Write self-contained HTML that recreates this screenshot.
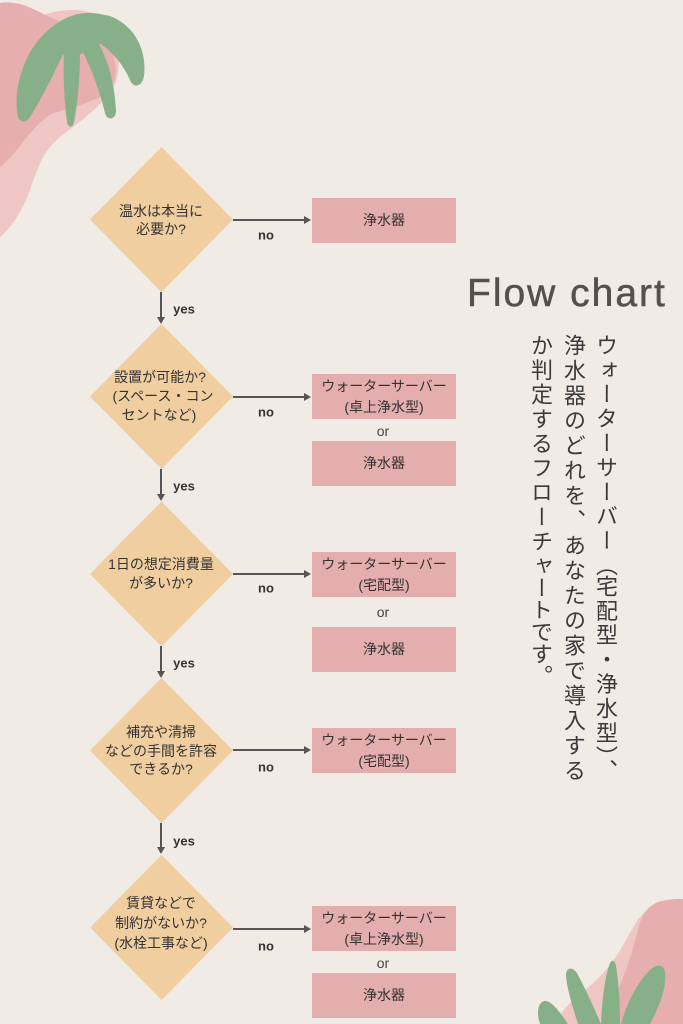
<!DOCTYPE html>
<html lang="ja">
<head>
<meta charset="utf-8">
<style>
  html, body { margin:0; padding:0; }
  body { width:683px; height:1024px; overflow:hidden; background:#f0ebe5; position:relative;
         font-family:"Liberation Sans","Noto Sans CJK JP",sans-serif; }
  svg { position:absolute; left:0; top:0; }
  .vcol { position:absolute; top:334px; width:32px; writing-mode:vertical-rl; text-orientation:mixed;
          font-family:"Noto Sans CJK JP","Liberation Sans",sans-serif; font-size:22px; line-height:32px;
          color:#3a3a3a; white-space:nowrap; }
  .title { position:absolute; left:467px; top:271px; font-family:"Liberation Sans",sans-serif;
           font-size:39px; letter-spacing:2px; color:#55504c; white-space:nowrap; line-height:46px;
           -webkit-text-stroke:0.5px #55504c; }
</style>
</head>
<body>
<svg width="683" height="1024" viewBox="0 0 683 1024" xmlns="http://www.w3.org/2000/svg">
  <!-- top-left decoration -->
  <path d="M0,237 C12,228 25,205 30,190 C40,160 45,150 60,137 C75,125 95,112 110,93 C120,80 122,55 113,33 C106,18 95,11 75,10 C55,10 45,14 30,20 L0,20 Z" fill="#efc6c3"/>
  <path d="M0,167 C12,158 22,142 33,130 C43,118 52,113 60,111 C72,108 85,104 98,98 C112,90 118,78 115,62 C110,40 95,28 70,24 C50,20 40,10 20,4 C10,2 4,2 0,3 Z" fill="#e6aeae"/>
  <g fill="#88b088">
    <path d="M38,44 C52,22 72,12 92,13 C112,14 130,26 138,45 L97,44 L81,54 L64,55 Z"/>
    <path d="M64,52 C55,72 42,98 30,117 C27,123 20,123 18,117 C14,98 18,70 34,46 C44,32 56,22 70,17 Z"/>
    <path d="M64,50 C63,75 64,100 67,122 C68,128 73,128 74,122 C78,102 80,76 80,50 Z"/>
    <path d="M82,50 C92,70 100,92 105,113 C107,121 116,120 116,111 C115,88 110,64 98,42 Z"/>
    <path d="M98,42 C110,50 122,62 130,80 C133,88 142,88 144,76 C147,52 136,26 110,16 C102,14 95,14 90,15 Z"/>
  </g>

  <!-- bottom-right decoration -->
  <path d="M556,1024 C560,1012 568,1004 580,994 C592,985 600,977 610,965 C620,953 625,940 633,928 C640,915 650,904 665,901 C672,900 678,900 683,900 L683,1024 Z" fill="#efc6c3"/>
  <path d="M607,1024 C612,1005 618,990 624,975 C630,960 634,945 638,930 C641,917 646,907 658,902 C668,899 676,899 683,899 L683,1024 Z" fill="#e6aeae"/>
  <path d="M540,1024 C537,1015 537,1006 542,1002 C548,998 556,1006 568,1024 Z" fill="#88b088"/>
  <path d="M578,1024 C572,1005 566,985 566,974 C567,966 574,967 578,975 C586,990 594,1008 601,1024 Z" fill="#88b088"/>
  <path d="M601,1024 C602,1005 604,980 609,966 C611,959 615,959 616,966 C619,985 620,1005 620,1024 Z" fill="#88b088"/>
  <path d="M621,1024 C626,1005 636,985 648,972 C655,964 663,963 665,972 C667,987 660,1005 650,1024 Z" fill="#88b088"/>

  <!-- diamonds -->
  <g fill="#f0cea0">
    <polygon points="161.5,147 233,219.5 161.5,292 90,219.5"/>
    <polygon points="161.5,324 233,396.5 161.5,469 90,396.5"/>
    <polygon points="161.5,501.5 233,574 161.5,646.5 90,574"/>
    <polygon points="161.5,678 233,750.5 161.5,823 90,750.5"/>
    <polygon points="161.5,855 233,927.5 161.5,1000 90,927.5"/>
  </g>

  <!-- boxes -->
  <g fill="#e5aeae">
    <rect x="312" y="198" width="144" height="45"/>
    <rect x="312" y="374" width="144" height="45"/>
    <rect x="312" y="441" width="144" height="45"/>
    <rect x="312" y="552" width="144" height="45"/>
    <rect x="312" y="627" width="144" height="45"/>
    <rect x="312" y="728" width="144" height="45"/>
    <rect x="312" y="906" width="144" height="45"/>
    <rect x="312" y="973" width="144" height="45"/>
  </g>

  <!-- connectors -->
  <g stroke="#555" stroke-width="2" fill="none">
    <line x1="233" y1="220" x2="305" y2="220"/>
    <line x1="233" y1="397" x2="305" y2="397"/>
    <line x1="233" y1="574" x2="305" y2="574"/>
    <line x1="233" y1="750" x2="305" y2="750"/>
    <line x1="233" y1="929" x2="305" y2="929"/>
    <line x1="161" y1="292" x2="161" y2="318"/>
    <line x1="161" y1="469" x2="161" y2="495"/>
    <line x1="161" y1="646" x2="161" y2="672"/>
    <line x1="161" y1="823" x2="161" y2="848"/>
  </g>
  <g fill="#555">
    <polygon points="304,216 311,220 304,224"/>
    <polygon points="304,393 311,397 304,401"/>
    <polygon points="304,570 311,574 304,578"/>
    <polygon points="304,746 311,750 304,754"/>
    <polygon points="304,925 311,929 304,933"/>
    <polygon points="157,317 165,317 161,324"/>
    <polygon points="157,494 165,494 161,501"/>
    <polygon points="157,671 165,671 161,678"/>
    <polygon points="157,847 165,847 161,854"/>
  </g>

  <!-- no / yes labels -->
  <g font-family="Liberation Sans, sans-serif" font-weight="bold" font-size="13" fill="#333" text-anchor="middle" dominant-baseline="central">
    <text x="266" y="235">no</text>
    <text x="266" y="412">no</text>
    <text x="266" y="588">no</text>
    <text x="266" y="767">no</text>
    <text x="266" y="946">no</text>
    <text x="184" y="309">yes</text>
    <text x="184" y="486">yes</text>
    <text x="184" y="663">yes</text>
    <text x="184" y="841">yes</text>
  </g>

  <!-- or -->
  <g font-family="Liberation Sans, sans-serif" font-size="14" fill="#444" text-anchor="middle" dominant-baseline="central">
    <text x="383" y="431">or</text>
    <text x="383" y="612">or</text>
    <text x="383" y="963">or</text>
  </g>

  <!-- diamond texts -->
  <g font-family="Liberation Sans, Noto Sans CJK JP, sans-serif" font-size="14" fill="#333" text-anchor="middle" dominant-baseline="central">
    <text x="161" y="211">温水は本当に</text>
    <text x="161" y="229">必要か?</text>
    <text x="160" y="377">設置が可能か?</text>
    <text x="163" y="396">(スペース・コン</text>
    <text x="159" y="415">セントなど)</text>
    <text x="161" y="564">1日の想定消費量</text>
    <text x="161" y="583">が多いか?</text>
    <text x="161" y="732">補充や清掃</text>
    <text x="161" y="751">などの手間を許容</text>
    <text x="161" y="769">できるか?</text>
    <text x="161" y="903">賃貸などで</text>
    <text x="161" y="923">制約がないか?</text>
    <text x="161" y="943">(水栓工事など)</text>
  </g>

  <!-- box texts -->
  <g font-family="Liberation Sans, Noto Sans CJK JP, sans-serif" font-size="14" fill="#333" text-anchor="middle" dominant-baseline="central">
    <text x="384" y="220">浄水器</text>
    <text x="384" y="386">ウォーターサーバー</text>
    <text x="384" y="407">(卓上浄水型)</text>
    <text x="384" y="463">浄水器</text>
    <text x="384" y="564">ウォーターサーバー</text>
    <text x="384" y="585">(宅配型)</text>
    <text x="384" y="649">浄水器</text>
    <text x="384" y="740">ウォーターサーバー</text>
    <text x="384" y="761">(宅配型)</text>
    <text x="384" y="918">ウォーターサーバー</text>
    <text x="384" y="939">(卓上浄水型)</text>
    <text x="384" y="995">浄水器</text>
  </g>
</svg>

<div class="title">Flow chart</div>

<div class="vcol" style="left:591px; letter-spacing:2.4px;">ウォーターサーバー<span style="margin-bottom:-3px">（</span>宅配型・浄水型）、</div>
<div class="vcol" style="left:559px; letter-spacing:3px;">浄水器のどれを、あなたの家で導入する</div>
<div class="vcol" style="left:526px; letter-spacing:2.5px;">か判定するフローチ<span style="letter-spacing:0">ャートです。</span></div>
</body>
</html>
